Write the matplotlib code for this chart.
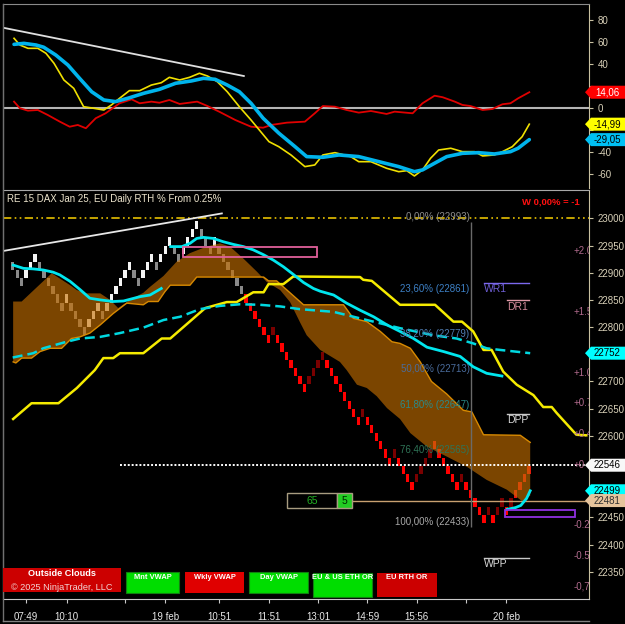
import numpy as np
import matplotlib
matplotlib.use("Agg")
import matplotlib.pyplot as plt
from matplotlib.patches import Polygon, Rectangle
from matplotlib.lines import Line2D
from matplotlib.transforms import IdentityTransform, blended_transform_factory

plt.rcParams['font.family'] = ['Liberation Sans', 'DejaVu Sans']

# ---------------- data ----------------
# oscillator panel (x = bar index)
osc_cyan_x = [0.3, 2.5, 5.2, 6.9, 9.6, 12.3, 14.9, 17.6, 20.3, 22.9, 25.6, 29.2, 32.7, 36.3, 39.8,
              42.5, 45.1, 47.8, 50.5, 53.1, 55.8, 59.3, 62.9, 65.5, 69.1, 72.7, 77.1, 81.6, 86.0,
              89.5, 91.3, 94.0, 96.7, 100.2, 103.8, 107.3, 110.9, 112.6, 115.1]
osc_cyan = [57.6, 58.5, 57.0, 55.0, 47.9, 38.8, 26.7, 14.5, 7.0, 5.5, 8.5, 13.1, 16.7, 22.2, 24.3,
            26.7, 25.8, 20.6, 14.5, 4.0, -9.6, -23.2, -35.4, -44.5, -45.1, -43.0, -44.5, -49.1, -53.6,
            -58.2, -56.6, -50.5, -44.5, -41.5, -40.9, -42.1, -40.0, -36.9, -29.05]
osc_yel_x = [0.3, 1.6, 3.4, 5.6, 7.4, 9.2, 11.4, 13.6, 15.8, 18.0, 20.3, 22.0, 23.8, 26.0, 28.3,
             30.9, 33.1, 34.9, 37.2, 39.4, 41.6, 43.4, 45.6, 47.8, 50.5, 53.1, 57.1, 59.3, 62.0,
             65.1, 67.3, 69.1, 71.8, 75.3, 77.1, 79.8, 83.3, 86.0, 87.8, 89.5, 91.3, 93.1, 94.9,
             97.6, 100.2, 102.9, 104.7, 107.3, 109.1, 111.3, 113.5, 115.1]
osc_yel = [63.1, 57.0, 54.0, 54.0, 49.5, 40.4, 25.2, 17.6, 0.9, -0.5, -2.1, 2.5, 8.5, 15.5, 15.5,
           20.6, 22.7, 27.6, 25.2, 27.6, 31.3, 28.8, 23.6, 14.5, 0.9, -11.2, -30.9, -35.5, -43.0,
           -53.6, -52.1, -43.0, -40.9, -44.5, -49.1, -49.1, -55.1, -58.2, -57.3, -62.1, -56.6, -46.0,
           -38.5, -36.9, -40.0, -40.0, -43.9, -43.0, -40.0, -35.5, -26.4, -14.99]
osc_red_x = [0.3, 1.6, 3.4, 5.6, 7.8, 10.5, 12.7, 14.5, 16.3, 18.5, 20.7, 23.8, 26.5, 28.3, 30.9,
             32.7, 34.9, 37.2, 41.1, 43.4, 46.0, 49.6, 53.1, 55.8, 57.6, 61.1, 65.1, 67.3, 69.1,
             71.8, 74.4, 77.1, 79.8, 83.3, 85.1, 89.1, 91.3, 94.0, 95.8, 98.5, 100.2, 102.0, 104.7,
             106.9, 109.1, 110.9, 112.6, 115.1]
osc_red = [5.5, -0.5, -2.7, -2.1, -6.6, -12.7, -17.3, -15.7, -18.7, -9.6, -5.1, 4.0, 7.6, 4.0, 5.5,
           4.5, 7.0, 3.4, 5.5, 1.5, -3.6, -11.2, -17.3, -18.2, -15.7, -13.6, -12.7, -5.1, 1.5,
           0.9, -2.1, -4.5, -3.0, -5.7, -3.6, -5.1, 4.0, 10.9, 9.5, 5.5, 2.5, 1.5, -2.1,
           -1.2, 3.1, 4.0, 8.5, 14.06]
osc_trend_x = [-2.1, 51.5]
osc_trend = [72.7, 28.8]
osc_ticks = [80, 60, 40, 20, 0, -20, -40, -60]
hidden_osc_labels = [20, -20]   # covered by the value flags

# renko bricks (high of each 15-pt brick)
BRICK = 15
brick_high = [22920, 22905, 22890, 22905, 22920, 22935, 22920, 22905, 22890, 22875,
              22860, 22845, 22860, 22845, 22830, 22815, 22800, 22815, 22830, 22845,
              22830, 22845, 22860, 22875, 22890, 22905, 22920, 22905, 22890, 22905,
              22920, 22935, 22920, 22935, 22950, 22965, 22950, 22935, 22950, 22965,
              22980, 22995, 22980, 22965, 22950, 22965, 22950, 22935, 22920, 22905,
              22890, 22875, 22860, 22845, 22830, 22815, 22800, 22785, 22800, 22785,
              22770, 22755, 22740, 22725, 22710, 22695, 22710, 22725, 22740, 22755,
              22740, 22725, 22710, 22695, 22680, 22665, 22650, 22635, 22650, 22635,
              22620, 22605, 22590, 22575, 22560, 22575, 22560, 22545, 22530, 22515,
              22530, 22545, 22560, 22575, 22590, 22575, 22560, 22545, 22530, 22515,
              22530, 22515, 22500, 22485, 22470, 22455, 22470, 22455, 22470, 22485,
              22470, 22485, 22500, 22515, 22530, 22545]
RED_START = 52
bright_up = [94, 112, 113, 114, 115]

# moving averages / cloud (x = bar index, y = price)
ma_fast1_x = [0.1, 2.4, 4.6, 6.8, 9.0, 10.5, 12.8, 15.0, 17.2, 19.5, 22.4, 24.7, 28.4, 30.6, 33.1]
ma_fast1 = [22914, 22908, 22907, 22905, 22901, 22896, 22884, 22869, 22853, 22850, 22847, 22848,
            22856, 22859, 22871]
ma_fast2_x = [35.2, 37.7, 39.5, 41.0, 42.5, 44.7, 46.9, 49.2, 51.4, 53.6, 55.9, 58.1, 60.3, 62.5,
              64.8, 67.0, 68.5, 71.5, 74.4, 77.4, 80.4, 83.4, 86.3, 89.3, 92.3, 96.0, 99.7, 102.6,
              105.6, 109.0]
ma_fast2 = [22948, 22948, 22954, 22963, 22965, 22963, 22957, 22952, 22948, 22942, 22933, 22923,
            22911, 22897, 22882, 22871, 22866, 22859, 22844, 22831, 22819, 22804, 22792, 22779,
            22763, 22755, 22746, 22727, 22715, 22710]
ma_fast3_x = [110.2, 112.0, 113.2, 114.5, 115.3]
ma_fast3 = [22465, 22468, 22472, 22485, 22499]
ma_slow_x = [0, 4.6, 6.8, 12.0, 15.0, 19.5, 23.9, 29.1, 33.6, 37.3, 41.7, 46.2, 50.7, 55.1, 59.6,
             64.0, 71.5, 78.9, 86.3, 93.7, 98.9, 102.6, 105.6, 108.6, 115.3]
ma_slow = [22744, 22752, 22761, 22773, 22779, 22782, 22789, 22799, 22813, 22819, 22833, 22839,
           22842, 22841, 22838, 22833, 22828, 22813, 22798, 22785, 22779, 22770, 22761, 22758, 22752]
kijun_x = [0.1, 4.2, 10.2, 14.3, 18.3, 20.2, 22.4, 23.9, 29.1, 33.2, 35.1, 42.9, 47.7, 49.9, 53.6,
           55.9, 57.0, 60.3, 62.5, 77.4, 78.1, 80.0, 86.3, 94.1, 98.2, 100.1, 102.6, 104.9, 106.7,
           109.3, 112.3, 116.0, 118.2, 120.1, 121.2, 125.6, 127.8]
kijun = [22631, 22660, 22660, 22688, 22721, 22743, 22743, 22752, 22752, 22779, 22779, 22835, 22846,
         22846, 22864, 22864, 22879, 22879, 22893, 22892, 22887, 22885, 22841, 22841, 22810, 22810,
         22792, 22758, 22758, 22718, 22694, 22675, 22653, 22653, 22642, 22602, 22601]
spanA_x = [0.1, 2.0, 8.7, 12.8, 14.3, 16.5, 19.5, 21.7, 23.5, 26.1, 29.1, 30.6, 33.6, 36.5, 39.5,
           43.2, 46.2, 48.4, 51.4, 54.4, 56.6, 59.6, 61.8, 64.0, 65.5, 68.5, 71.5, 72.9, 74.4, 76.7,
           78.9, 81.1, 83.4, 86.3, 88.6, 92.3, 96.7, 101.2, 105.6, 110.1, 113.5, 115.3]
spanA = [22847, 22847, 22899, 22877, 22868, 22862, 22862, 22850, 22835, 22850, 22863, 22874, 22894,
         22920, 22936, 22948, 22954, 22948, 22926, 22902, 22883, 22868, 22846, 22809, 22785, 22758,
         22743, 22736, 22721, 22694, 22688, 22673, 22651, 22631, 22605, 22580, 22562, 22543, 22519,
         22501, 22480, 22490]
spanB_x = [0.1, 0.7, 2.0, 4.2, 6.1, 8.3, 10.9, 13.1, 15.0, 17.2, 19.5, 22.4, 25.4, 29.1, 30.2,
           32.4, 33.9, 35.1, 39.5, 41.0, 55.9, 57.0, 58.8, 60.3, 64.8, 73.7, 75.9, 78.9, 81.9, 84.5,
           86.3, 88.6, 90.8, 93.3, 96.7, 100.4, 102.3, 104.9, 113.1, 115.3]
spanB = [22736, 22734, 22743, 22743, 22755, 22761, 22761, 22779, 22782, 22789, 22804, 22825, 22844,
         22841, 22847, 22847, 22865, 22877, 22877, 22892, 22892, 22885, 22885, 22874, 22841, 22841,
         22816, 22810, 22792, 22773, 22770, 22761, 22736, 22700, 22677, 22647, 22644, 22602, 22601,
         22588]
trend_x = [-2.1, 46.6]
trend = [22940, 23009]

# drawing objects
round_level = 23000
last_price = 22546
tan_level = 22481
tan_start = 75.5
dot_start = 23.9
fib_x = 102.1
fib_pct = ['0,00%', '23,60%', '38,20%', '50,00%', '61,80%', '76,40%', '100,00%']
fib_price = [22993, 22861, 22779, 22713, 22647, 22565, 22433]
fib_color = ['#8c8c8c', '#3d80c6', '#4f7bb0', '#4a6c9c', '#2a8a8a', '#2f7457', '#a8a8a8']
pink_box = (38.0, 67.8, 22929, 22948)
purple_box = (109.7, 125.3, 22450, 22464)
pivot_names = ['WR1', 'DR1', 'DPP', 'WPP']
pivot_price = [22881, 22849, 22641, 22375]
pivot_x0 = [105.0, 110.2, 110.2, 105.0]
pivot_x1 = [115.1, 115.1, 115.1, 115.1]
pivot_tcol = ['#6f5fd6', '#d48a9a', '#d8d8d8', '#d8d8d8']
pivot_lcol = ['#7b68ee', '#e09aa8', '#c8c8c8', '#c8c8c8']
price_ticks = list(range(22350, 23001, 50))
hidden_price_labels = [22500, 22550, 22750]   # covered by the value flags
x_ticks = [3, 12, 25, 34, 46, 57, 68, 79, 90, 101, 110]
x_labels = ['07:49', '10:10', '', '19 feb', '10:51', '11:51', '13:01', '14:59', '15:56', '', '20 feb']
sec_labels = ['+2.0', '+1.5', '+1.0', '+0.7', '+0.4', '+0', '-0.2', '-0.5', '-0,7']
sec_price = [22940, 22828, 22715, 22660, 22603, 22547, 22436, 22379, 22323]

# ---------------- figure ----------------
W, H = 625, 624
fig = plt.figure(figsize=(W / 100, H / 100), dpi=100, facecolor='black')


def fig_box(px0, py0, px1, py1):
    return [px0 / W, 1 - py1 / H, (px1 - px0) / W, (py1 - py0) / H]


ax1 = fig.add_axes(fig_box(3, 4, 589, 188.5))
ax2 = fig.add_axes(fig_box(3, 189.5, 589, 599))
XLIM = (-2.16, 128.4)
for ax in (ax1, ax2):
    ax.set_facecolor('black')
    ax.set_xlim(*XLIM)
    ax.yaxis.tick_right()
    ax.spines['left'].set_color('#707070')
    ax.spines['right'].set_color('#c8c0a0')
    ax.spines['top'].set_color('#8a8a8a')
    ax.tick_params(axis='y', colors='#c8c0a0', labelcolor='#d8d0b8', labelsize=7, length=3,
                   pad=3, width=0.8)
ax1.set_ylim(-73.5, 94.3)
ax2.set_ylim(22300, 23053)
ax1.spines['bottom'].set_visible(False)
ax1.set_xticks([])
ax1.set_yticks(osc_ticks)
ax1.set_yticklabels(['' if v in hidden_osc_labels else str(v) for v in osc_ticks])
ax2.spines['top'].set_color('#a8a8a8')
ax2.spines['bottom'].set_color('#c8c8c8')
ax2.set_yticks(price_ticks)
ax2.set_yticklabels(['' if v in hidden_price_labels else str(v) for v in price_ticks])
ax2.set_xticks(x_ticks)
ax2.set_xticklabels(x_labels)
ax2.tick_params(axis='x', colors='#c8c8c8', labelcolor='#e8e8e8', labelsize=7, length=3, pad=6)

# ---- oscillator panel ----
ax1.axhline(0, color='#b4b4b4', lw=1.5, zorder=2)
ax1.plot(osc_trend_x, osc_trend, color='#e0e0e0', lw=1.3, zorder=3)
ax1.plot(osc_red_x, osc_red, color='#e00000', lw=1.3, zorder=4)
ax1.plot(osc_yel_x, osc_yel, color='#f0e000', lw=1.2, zorder=5)
ax1.plot(osc_cyan_x, osc_cyan, color='#00b4ec', lw=2.6, zorder=6, solid_capstyle='round')

# ---- price panel ----
highs = np.array(brick_high, dtype=float)
bx = np.arange(len(highs))
prev = np.r_[highs[0] + BRICK, highs[:-1]]
is_up = highs > prev
colors = []
for i, u in enumerate(is_up):
    if i < RED_START:
        colors.append('#f4f4f4' if u else '#8a8a8a')
    else:
        if u:
            colors.append('#e81010' if i in bright_up else '#7a0000')
        else:
            colors.append('#ff0000')
ax2.bar(bx, BRICK, bottom=highs - BRICK, width=0.74, color=colors, linewidth=0, zorder=2)

cx = np.r_[spanA_x, spanB_x[::-1]]
cy = np.r_[spanA, spanB[::-1]]
ax2.fill(cx, cy, facecolor='#c87000', alpha=0.62, edgecolor='none', zorder=3)
ax2.plot(spanB_x, spanB, color='#d88a00', lw=1.0, zorder=4)

ax2.axhline(round_level, color='#e6c000', lw=1.2, dashes=(5, 2, 1, 2, 1, 2), zorder=4)
ax2.plot([dot_start, XLIM[1]], [last_price, last_price], color='white', lw=1.4,
         dashes=(1, 1), zorder=4)
ax2.plot([tan_start, XLIM[1]], [tan_level, tan_level], color='#c8a070', lw=1.0, zorder=4)
ax2.plot(trend_x, trend, color='#e8e8e8', lw=1.3, zorder=5)

ax2.plot(kijun_x, kijun, color='#f5eb00', lw=1.8, zorder=5)
ax2.plot(ma_slow_x, ma_slow, color='#00d8e0', lw=1.8, dashes=(4, 2), zorder=5)
for xs, ys in ((ma_fast1_x, ma_fast1), (ma_fast2_x, ma_fast2), (ma_fast3_x, ma_fast3)):
    ax2.plot(xs, ys, color='#00e6ee', lw=2.0, zorder=6)

ax2.add_patch(Rectangle((pink_box[0], pink_box[2]), pink_box[1] - pink_box[0],
                        pink_box[3] - pink_box[2], fill=False, edgecolor='#e0609a', lw=1.3, zorder=6))
ax2.add_patch(Rectangle((purple_box[0], purple_box[2]), purple_box[1] - purple_box[0],
                        purple_box[3] - purple_box[2], fill=False, edgecolor='#9030e0', lw=1.3, zorder=6))

# fibonacci
ax2.vlines(fib_x, fib_price[-1], fib_price[0], color='#6a6a6a', lw=1.0, zorder=4)
for p, pr, c in zip(fib_pct, fib_price, fib_color):
    ax2.text(fib_x - 0.3, pr, f'{p} ({pr})', color=c, fontsize=7, ha='right', va='bottom', zorder=7)

# pivots
for n, pr, x0, x1, tc, lc in zip(pivot_names, pivot_price, pivot_x0, pivot_x1, pivot_tcol, pivot_lcol):
    ax2.plot([x0, x1], [pr, pr], color=lc, lw=1.0, zorder=6)
    ax2.text(x0, pr - 2, n, color=tc, fontsize=7.5, ha='left', va='top', zorder=7)

# secondary (clipped) scale labels
btr = blended_transform_factory(ax2.transAxes, ax2.transData)
for s, pr in zip(sec_labels, sec_price):
    ax2.text(0.9735, pr, s, transform=btr, color='#b06a8c', fontsize=7, ha='left', va='center',
             clip_on=True, zorder=7)


# ---------------- overlays in pixel space ----------------
def px_rect(x0, y0, x1, y1, **kw):
    fig.add_artist(Rectangle((x0 / W, 1 - y1 / H), (x1 - x0) / W, (y1 - y0) / H,
                             transform=fig.transFigure, **kw))


def px_text(x, y, s, **kw):
    fig.text(x / W, 1 - y / H, s, **kw)


px_text(7, 199, 'RE 15 DAX Jan 25, EU Daily RTH % From 0.25%', color='#ece4cc', fontsize=7,
        ha='left', va='center')
px_text(579.5, 201.5, 'W 0,00% = -1', color='#ff1010', fontsize=6.8, fontweight='bold',
        ha='right', va='center')

# 65 | 5 box
px_rect(287.3, 493.3, 336.7, 508.3, facecolor='black', edgecolor='#a89c80', lw=1, zorder=8)
px_rect(336.7, 493.3, 351.7, 508.3, facecolor='#22cc22', edgecolor='#a89c80', lw=1, zorder=8)
px_text(312, 501, '65', color='#22b022', fontsize=7.5, ha='center', va='center', zorder=9)
px_text(344.2, 501, '5', color='#002800', fontsize=7.5, ha='center', va='center', zorder=9)

# buttons
px_rect(3, 568.3, 121, 592, facecolor='#cc0000', edgecolor='none', zorder=8)
px_text(62, 573.5, 'Outside Clouds', color='white', fontsize=6.6, fontweight='bold',
        ha='center', va='center', zorder=9)
px_text(62, 587.5, '\u00a9 2025 NinjaTrader, LLC', color='#f2d4d4', fontsize=6.6,
        ha='center', va='center', zorder=9)
buttons = [(126, 179.3, 572.3, 592.7, '#00dd00', 'Mnt VWAP'),
           (185, 244, 572.3, 592.7, '#e00000', 'Wkly VWAP'),
           (249.3, 308, 572.3, 592.7, '#00dd00', 'Day VWAP'),
           (313.3, 371.7, 572.7, 596.7, '#00dd00', 'EU & US ETH OR'),
           (377.3, 436.7, 572.7, 596.7, '#cc0000', 'EU RTH OR')]
for x0, x1, y0, y1, c, s in buttons:
    px_rect(x0, y0, x1, y1, facecolor=c, edgecolor='#108010' if c == '#00dd00' else 'none',
            lw=0.8, zorder=8)
    px_text((x0 + x1) / 2, y0 + 5, s, color='white', fontsize=5.4, fontweight='bold',
            ha='center', va='center', zorder=9)

# frame lines
fig.add_artist(Line2D([3 / W, 3 / W], [1 - 621 / H, 1 - 4 / H], transform=fig.transFigure,
                      color='#707070', lw=1))
fig.add_artist(Line2D([3 / W, 589 / W], [1 - 621 / H, 1 - 621 / H], transform=fig.transFigure,
                      color='#808080', lw=1))


# value flags on the right axis
def flag(ax, val, txt, fc, tc):
    y = ax.transData.transform((XLIM[0], val))[1]
    x0, x1, h = 585.0, 625.0, 6.5
    pts = [(x0, y), (x0 + 6, y + h), (x1, y + h), (x1, y - h), (x0 + 6, y - h)]
    fig.add_artist(Polygon(pts, closed=True, transform=IdentityTransform(), facecolor=fc,
                           edgecolor='none', zorder=10))
    fig.text(607.5, y, txt, transform=IdentityTransform(), color=tc, fontsize=7, ha='center',
             va='center', zorder=11)


flag(ax1, osc_red[-1], f'{osc_red[-1]:.2f}'.replace('.', ','), '#ff0000', 'white')
flag(ax1, osc_yel[-1], f'{osc_yel[-1]:.2f}'.replace('.', ','), '#ffff00', 'black')
flag(ax1, osc_cyan[-1], f'{osc_cyan[-1]:.2f}'.replace('.', ','), '#00c0f4', 'black')
flag(ax2, ma_slow[-1], str(ma_slow[-1]), '#00ffff', 'black')
flag(ax2, last_price, str(last_price), '#f8f8f8', 'black')
flag(ax2, ma_fast3[-1], str(ma_fast3[-1]), '#00ffff', 'black')
flag(ax2, tan_level, str(tan_level), '#e6c49c', '#303030')

fig.savefig('out.png', dpi=100, facecolor='black')
